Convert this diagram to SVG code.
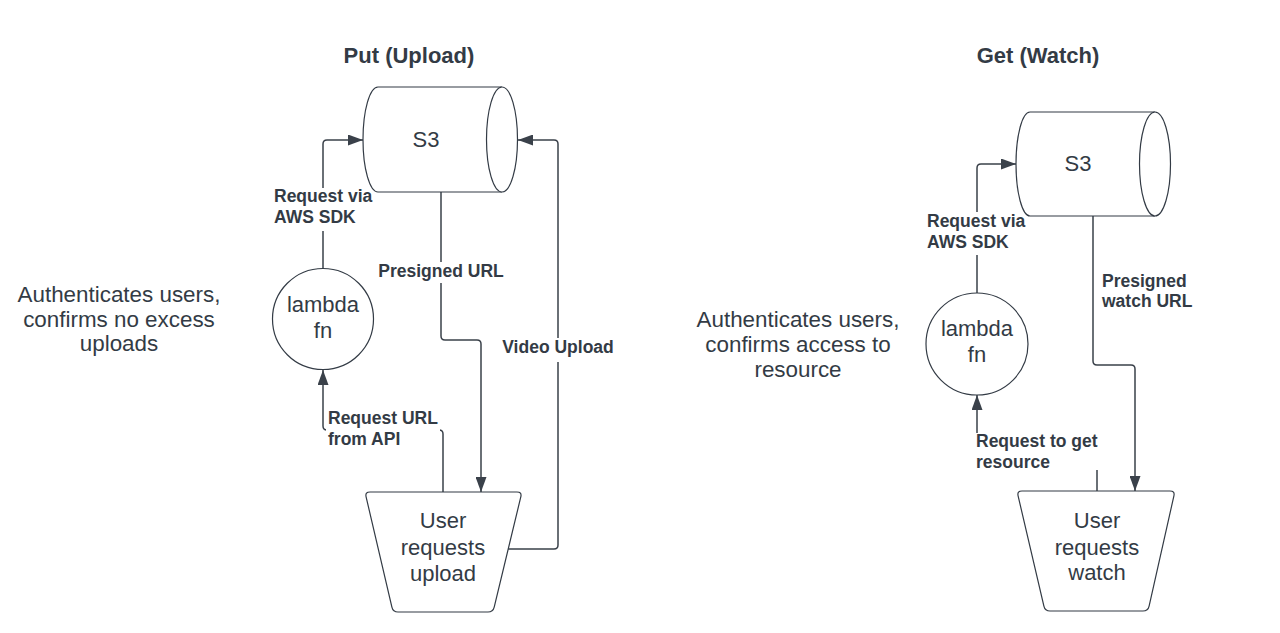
<svg xmlns="http://www.w3.org/2000/svg" width="1280" height="633" viewBox="0 0 1280 633">
<style>
  .shape { fill: #ffffff; stroke: #333b45; stroke-width: 1.2; }
  .conn { fill: none; stroke: #3a414a; stroke-width: 1.5; }
  .ntext { font-family: "Liberation Sans", Arial, sans-serif; font-size: 22px; fill: #333b45; text-anchor: middle; }
  .title { font-family: "Liberation Sans", Arial, sans-serif; font-size: 22px; font-weight: bold; fill: #333b45; text-anchor: middle; }
  .lbl { font-family: "Liberation Sans", Arial, sans-serif; font-size: 17.5px; font-weight: bold; fill: #333b45; }
  .lblbg { fill: #ffffff; stroke: none; }
  .note { font-family: "Liberation Sans", Arial, sans-serif; font-size: 22.4px; fill: #333b45; text-anchor: middle; }
</style>
<defs>
  <marker id="arrow" viewBox="0 0 15 11" refX="15" refY="5.5" markerWidth="15" markerHeight="11" markerUnits="userSpaceOnUse" orient="auto">
    <path d="M0,0 L15,5.5 L0,11 Z" fill="#3a414a"/>
  </marker>
</defs>
<rect x="0" y="0" width="1280" height="633" fill="#ffffff"/>

<!-- Titles -->
<text class="title" x="409" y="63">Put (Upload)</text>
<text class="title" x="1038" y="63">Get (Watch)</text>

<!-- Notes -->
<g id="note-left">
  <text class="note" x="119" y="302">Authenticates users,</text>
  <text class="note" x="119" y="327">confirms no excess</text>
  <text class="note" x="119" y="351">uploads</text>
</g>
<g id="note-right">
  <text class="note" x="798" y="327">Authenticates users,</text>
  <text class="note" x="798" y="352">confirms access to</text>
  <text class="note" x="798" y="377">resource</text>
</g>

<!-- Connectors -->
<g id="connectors">
  <!-- Left diagram -->
  <path class="conn" d="M323,268 L323,144 Q323,140 327,140 L363,140" marker-end="url(#arrow)"/>
  <path class="conn" d="M441,192 L441,336 Q441,340 445,340 L477,340 Q481,340 481,344 L481,492" marker-end="url(#arrow)"/>
  <path class="conn" d="M508,549 L554,549 Q558,549 558,545 L558,144 Q558,140 554,140 L518,140" marker-end="url(#arrow)"/>
  <path class="conn" d="M443,492 L443,434 Q443,430 439,430 L327,430 Q323,430 323,426 L323,370" marker-end="url(#arrow)"/>
  <!-- Right diagram -->
  <path class="conn" d="M977,293 L977,168 Q977,164 981,164 L1016,164" marker-end="url(#arrow)"/>
  <path class="conn" d="M1093,216 L1093,361 Q1093,365 1097,365 L1131,365 Q1135,365 1135,369 L1135,491" marker-end="url(#arrow)"/>
  <path class="conn" d="M1097,491 L1097,456 Q1097,452 1093,452 L981,452 Q977,452 977,448 L977,395" marker-end="url(#arrow)"/>

  <!-- Labels -->
  <rect class="lblbg" x="272" y="188" width="104" height="43"/>
  <text class="lbl" x="274" y="202">Request via</text>
  <text class="lbl" x="274" y="223">AWS SDK</text>

  <rect class="lblbg" x="375" y="262" width="131" height="21"/>
  <text class="lbl" x="441" y="277" text-anchor="middle">Presigned URL</text>

  <rect class="lblbg" x="499" y="338" width="118" height="24"/>
  <text class="lbl" x="558" y="353" text-anchor="middle">Video Upload</text>

  <rect class="lblbg" x="326" y="405" width="114" height="45"/>
  <text class="lbl" x="328" y="424">Request URL</text>
  <text class="lbl" x="328" y="445">from API</text>

  <rect class="lblbg" x="925" y="212" width="104" height="43"/>
  <text class="lbl" x="927" y="227">Request via</text>
  <text class="lbl" x="927" y="248">AWS SDK</text>

  <text class="lbl" x="1102" y="287">Presigned</text>
  <text class="lbl" x="1102" y="307">watch URL</text>

  <rect class="lblbg" x="974" y="433" width="126" height="37"/>
  <text class="lbl" x="976" y="447">Request to get</text>
  <text class="lbl" x="976" y="468">resource</text>
</g>

<!-- Left nodes -->
<g id="s3-put">
  <path class="shape" d="M378,87 L502,87 A15.5,52.5 0 0 1 502,192 L378,192 A15,52.5 0 0 1 378,87 Z"/>
  <path class="shape" fill="none" d="M502,87 A15.5,52.5 0 0 0 502,192"/>
  <text class="ntext" x="426" y="147">S3</text>
</g>
<g id="lambda-put">
  <circle class="shape" cx="323" cy="319" r="50.5"/>
  <text class="ntext" x="323" y="312">lambda</text>
  <text class="ntext" x="323" y="338">fn</text>
</g>
<g id="user-upload">
  <path class="shape" d="M370,492 L517,492 Q522,492 520.8,496.9 L494.2,607.1 Q493,612 488,612 L398,612 Q393,612 391.9,607.1 L366.1,496.9 Q365,492 370,492 Z"/>
  <text class="ntext" x="443" y="528">User</text>
  <text class="ntext" x="443" y="555">requests</text>
  <text class="ntext" x="443" y="581">upload</text>
</g>

<!-- Right nodes -->
<g id="s3-get">
  <path class="shape" d="M1030,112 L1155,112 A15.5,52 0 0 1 1155,216 L1030,216 A14,52 0 0 1 1030,112 Z"/>
  <path class="shape" fill="none" d="M1155,112 A15.5,52 0 0 0 1155,216"/>
  <text class="ntext" x="1078" y="171">S3</text>
</g>
<g id="lambda-get">
  <circle class="shape" cx="977" cy="344" r="51"/>
  <text class="ntext" x="977" y="336">lambda</text>
  <text class="ntext" x="977" y="362">fn</text>
</g>
<g id="user-watch">
  <path class="shape" d="M1022,491 L1170,491 Q1175,491 1173.9,495.9 L1149.1,606.1 Q1148,611 1143,611 L1050,611 Q1045,611 1043.9,606.1 L1018.1,495.9 Q1017,491 1022,491 Z"/>
  <text class="ntext" x="1097" y="528">User</text>
  <text class="ntext" x="1097" y="555">requests</text>
  <text class="ntext" x="1097" y="580">watch</text>
</g>
</svg>
